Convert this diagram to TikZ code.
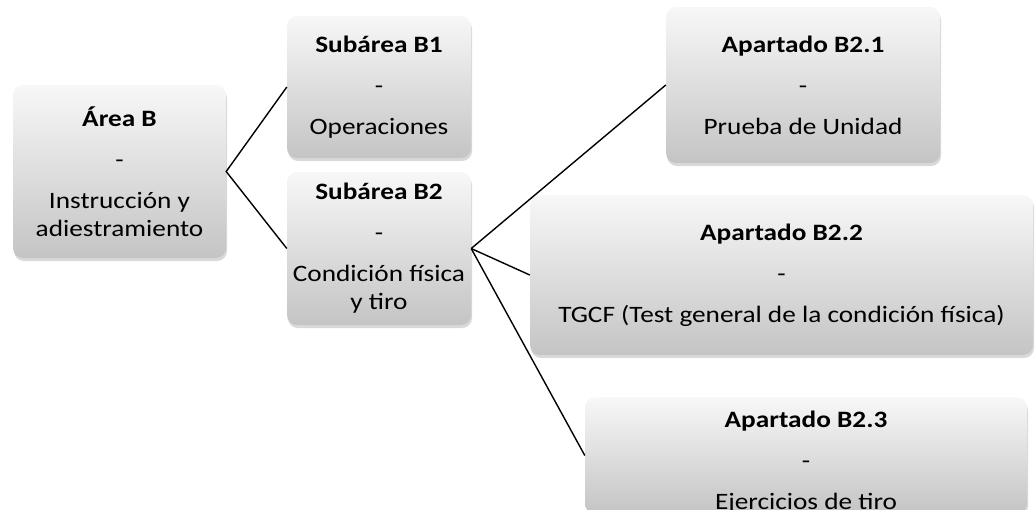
\documentclass[tikz,border=0pt]{standalone}
\usepackage{fontspec}
\setmainfont{Carlito}[FakeStretch=1.16]
\usetikzlibrary{shadows}
\begin{document}
\begin{tikzpicture}[x=1pt,y=-1pt,
  box/.style={rounded corners=10pt, top color=white!97!black, bottom color=black!23,
    drop shadow={opacity=0.3, shadow xshift=1pt, shadow yshift=-3pt},
    align=center, inner sep=0pt, font=\fontsize{23.5}{28}\selectfont, text=black},
  conn/.style={draw=black, line width=1.4pt}]
\useasboundingbox (0,0) rectangle (1035,509);
\node[box, minimum width=213pt, minimum height=173pt] (A) at (119.5,171.5)
  {\textbf{Área B}\\[13pt]-\\[13pt]Instrucción y\\adiestramiento};
\node[box, minimum width=184pt, minimum height=142pt] (B1) at (379,87)
  {\textbf{Subárea B1}\\[13pt]-\\[13pt]Operaciones};
\node[box, minimum width=184pt, minimum height=153pt] (B2) at (379,248.5)
  {\textbf{Subárea B2}\\[13pt]-\\[13pt]Condición física\\y tiro};
\node[box, minimum width=274pt, minimum height=156pt] (B21) at (803,85)
  {\textbf{Apartado B2.1}\\[13pt]-\\[13pt]Prueba de Unidad};
\node[box, minimum width=503pt, minimum height=160pt] (B22) at (781.5,275)
  {\textbf{Apartado B2.2}\\[13pt]-\\[13pt]TGCF (Test general de la condición física)};
\node[box, minimum width=442pt, minimum height=105pt] (B23) at (806,455.5)
  {\rule{0pt}{30pt}\textbf{Apartado B2.3}\\[13pt]-\\[13pt]Ejercicios de tiro};
\draw[conn] (B1.west) -- (A.east) -- (B2.west);
\draw[conn] (B2.east) -- (B21.west);
\draw[conn] (B2.east) -- (B22.west);
\draw[conn] (B2.east) -- (B23.west);
\end{tikzpicture}
\end{document}
